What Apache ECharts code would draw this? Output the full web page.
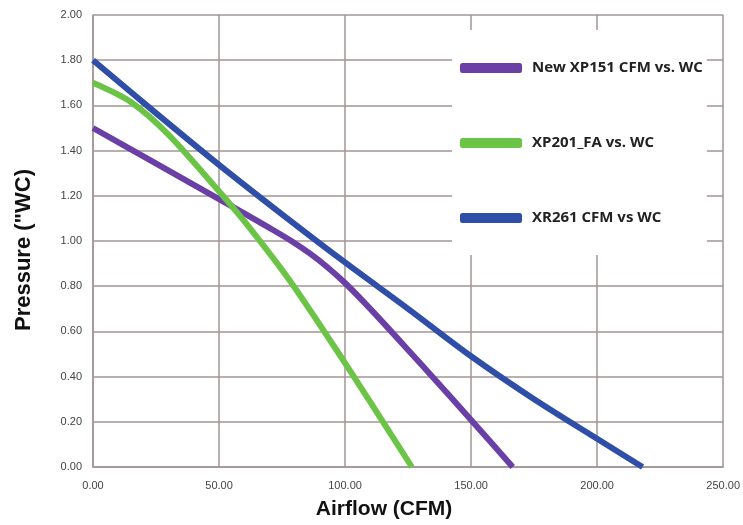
<!DOCTYPE html>
<html>
<head>
<meta charset="utf-8">
<script src="https://cdn.jsdelivr.net/npm/echarts@6/dist/echarts.min.js"></script>
<style>
  html, body { margin: 0; padding: 0; background: #ffffff; overflow: hidden; }
  #chart { width: 743px; height: 525px; }
</style>
</head>
<body>
<div id="chart"></div>
<script>
// ---- data ----
const seriesNames = ['New XP151 CFM vs. WC', 'XP201_FA vs. WC', 'XR261 CFM vs WC'];

const xp151Cfm = [0, 20, 40, 60, 70, 79, 86, 93, 100, 107, 115, 125, 135, 150, 166.5];
const xp151Wc  = [1.50, 1.374, 1.248, 1.122, 1.058, 0.998, 0.945, 0.884, 0.814, 0.735, 0.64, 0.518, 0.395, 0.208, 0.00];

const xp201Cfm = [0, 15, 30, 50, 62, 79, 100, 113, 126.5];
const xp201Wc  = [1.70, 1.615, 1.47, 1.22, 1.06, 0.81, 0.46, 0.235, 0.00];

const xr261Cfm = [0, 25, 50, 75, 100, 125, 150, 175, 200, 218];
const xr261Wc  = [1.80, 1.566, 1.337, 1.118, 0.905, 0.70, 0.49, 0.30, 0.125, 0.00];

const xTickLabels = ['0.00', '50.00', '100.00', '150.00', '200.00', '250.00'];
const yTickLabels = ['0.00', '0.20', '0.40', '0.60', '0.80', '1.00', '1.20', '1.40', '1.60', '1.80', '2.00'];

const xAxisTitle = 'Airflow (CFM)';
const yAxisTitle = 'Pressure ("WC)';

// ---- build ----
const zip = (xs, ys) => xs.map((x, i) => [x, ys[i]]);
const colors = ['#6a3fa6', '#6cc447', '#2f4ea8'];
const gridColor = '#a39494';

const chart = echarts.init(document.getElementById('chart'), null, { renderer: 'canvas' });

const makeSeries = (name, data, color) => ({
  name: name,
  type: 'line',
  data: data,
  smooth: 0.3,
  showSymbol: false,
  symbol: 'none',
  lineStyle: { width: 6, color: color },
  itemStyle: { color: color },
  emphasis: { disabled: true }
});

chart.setOption({
  animation: false,
  backgroundColor: '#ffffff',
  grid: { left: 93, right: 16, top: 15, bottom: 55, containLabel: false },
  legend: {
    orient: 'vertical',
    left: 452,
    top: 30,
    backgroundColor: '#ffffff',
    padding: [30, 4, 29, 8],
    itemGap: 59,
    itemWidth: 62,
    itemHeight: 10,
    icon: 'roundRect',
    selectedMode: false,
    textStyle: {
      fontFamily: '"Open Sans", "Liberation Sans", sans-serif',
      fontWeight: 'bold',
      fontSize: 15,
      lineHeight: 16,
      color: '#222222',
      padding: [0, 0, 0, 5]
    },
    data: seriesNames
  },
  xAxis: {
    type: 'value',
    min: 0,
    max: 250,
    interval: 50,
    name: xAxisTitle,
    nameLocation: 'middle',
    nameGap: 32,
    nameTextStyle: {
      fontFamily: '"Liberation Sans", sans-serif',
      fontWeight: 'bold',
      fontSize: 21,
      color: '#111111',
      padding: [0, 48, 0, 0]
    },
    axisLine: { show: true, lineStyle: { color: gridColor, width: 1.5 } },
    axisTick: { show: false },
    axisLabel: {
      margin: 13,
      fontFamily: '"Liberation Sans", sans-serif',
      fontSize: 11,
      color: '#444444',
      formatter: (v, i) => xTickLabels[i]
    },
    splitLine: { show: true, lineStyle: { color: gridColor, width: 1.5 } }
  },
  yAxis: {
    type: 'value',
    min: 0,
    max: 2,
    interval: 0.2,
    name: yAxisTitle,
    nameLocation: 'middle',
    nameGap: 58,
    nameTextStyle: {
      fontFamily: '"Liberation Sans", sans-serif',
      fontWeight: 'bold',
      fontSize: 22,
      color: '#111111',
      padding: [0, 18, 0, 0]
    },
    axisLine: { show: true, lineStyle: { color: gridColor, width: 1.5 } },
    axisTick: { show: false },
    axisLabel: {
      margin: 11,
      fontFamily: '"Liberation Sans", sans-serif',
      fontSize: 11,
      color: '#444444',
      formatter: (v, i) => yTickLabels[i]
    },
    splitLine: { show: true, lineStyle: { color: gridColor, width: 1.5 } }
  },
  series: [
    makeSeries(seriesNames[0], zip(xp151Cfm, xp151Wc), colors[0]),
    makeSeries(seriesNames[1], zip(xp201Cfm, xp201Wc), colors[1]),
    makeSeries(seriesNames[2], zip(xr261Cfm, xr261Wc), colors[2])
  ]
});
</script>
</body>
</html>
